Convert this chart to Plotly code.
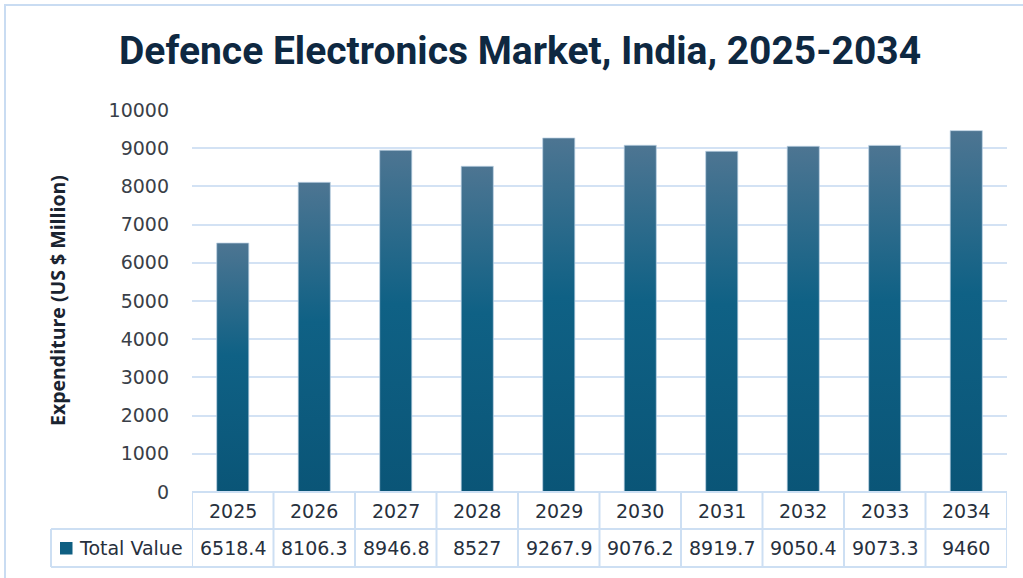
import plotly.graph_objects as go

# Market values, US $ million
years = ["2025", "2026", "2027", "2028", "2029", "2030", "2031", "2032", "2033", "2034"]
values = [6518.4, 8106.3, 8946.8, 8527, 9267.9, 9076.2, 8919.7, 9050.4, 9073.3, 9460]
value_labels = ["6518.4", "8106.3", "8946.8", "8527", "9267.9", "9076.2", "8919.7", "9050.4", "9073.3", "9460"]
series_name = "Total Value"
y_ticks = [0, 1000, 2000, 3000, 4000, 5000, 6000, 7000, 8000, 9000, 10000]
y_tick_text = [str(t) for t in y_ticks]

W, H = 1023, 578
ML, MR, MT, MB = 192, 16, 110, 86
PW, PH = W - ML - MR, H - MT - MB

def px_x(p):
    return (p - ML) / PW

def px_y(p):
    return (H - MB - p) / PH

HALF = 0.197
BAR_SCALE = [[0, "#0a5577"], [0.55, "#0f6185"], [1, "#4d7592"]]
GRID = "#d3e2f4"
TABLE_LINE = "#cddff3"
TEXT = "#27303d"
BODY_FONT = "DejaVu Sans"
BODY_SIZE = 19

fig = go.Figure()

# each bar as a filled column with its own vertical gradient
for i, v in enumerate(values):
    fig.add_trace(go.Scatter(
        x=[i - HALF, i + HALF, i + HALF, i - HALF, i - HALF],
        y=[0, 0, v, v, 0],
        mode="lines",
        fill="toself",
        fillgradient=dict(type="vertical", colorscale=BAR_SCALE),
        line=dict(color="rgba(190,210,228,0.9)", width=0.8),
        name=years[i],
        showlegend=False,
        hovertemplate=years[i] + ": %{y}<extra></extra>",
    ))

shapes = []
annotations = []

row_top = 0
row_mid = px_y(529)
row_bot = px_y(567)

# data table grid below the plot
for k in range(len(years) + 1):
    shapes.append(dict(type="line", xref="x", yref="paper", x0=k - 0.5, x1=k - 0.5,
                       y0=row_top, y1=row_bot, line=dict(color=TABLE_LINE, width=2)))
for yy in (row_top, row_mid, row_bot):
    shapes.append(dict(type="line", xref="x", yref="paper", x0=-0.5, x1=len(years) - 0.5,
                       y0=yy, y1=yy, line=dict(color=TABLE_LINE, width=2)))
legend_left = px_x(51)
for yy in (row_mid, row_bot):
    shapes.append(dict(type="line", xref="paper", yref="paper", x0=legend_left, x1=0,
                       y0=yy, y1=yy, line=dict(color=TABLE_LINE, width=2)))
shapes.append(dict(type="line", xref="paper", yref="paper", x0=legend_left, x1=legend_left,
                   y0=row_mid, y1=row_bot, line=dict(color=TABLE_LINE, width=2)))

# legend key square
shapes.append(dict(type="rect", xref="paper", yref="paper",
                   x0=px_x(60), x1=px_x(72.5), y0=px_y(542), y1=px_y(554.5),
                   fillcolor="#0f5f82", line=dict(width=0)))

# outer chart border
shapes.append(dict(type="rect", xref="paper", yref="paper",
                   x0=px_x(5), x1=px_x(1040), y0=px_y(5), y1=px_y(600),
                   fillcolor="rgba(0,0,0,0)", line=dict(color="#c9dcf2", width=2)))

cell_font = dict(family=BODY_FONT, size=BODY_SIZE, color=TEXT)
for i, (yr, lab) in enumerate(zip(years, value_labels)):
    annotations.append(dict(x=i, y=(row_top + row_mid) / 2, xref="x", yref="paper",
                            text=yr, showarrow=False, xanchor="center", yanchor="middle",
                            font=cell_font))
    annotations.append(dict(x=i, y=(row_mid + row_bot) / 2, xref="x", yref="paper",
                            text=lab, showarrow=False, xanchor="center", yanchor="middle",
                            font=cell_font))

annotations.append(dict(x=px_x(77), y=(row_mid + row_bot) / 2, xref="paper", yref="paper",
                        text=series_name, showarrow=False, xanchor="left", yanchor="middle",
                        font=cell_font))

# y-axis title
annotations.append(dict(x=px_x(57), y=px_y(301), xref="paper", yref="paper",
                        text="<b>Expenditure (US $ Million)</b>", showarrow=False,
                        textangle=-90, xanchor="center", yanchor="middle",
                        font=dict(family="Open Sans", size=19.5, color="#1a2330")))

# chart title
annotations.append(dict(x=px_x(520), y=px_y(51), xref="paper", yref="paper",
                        text="<b>Defence Electronics Market, India, 2025-2034</b>",
                        showarrow=False, xanchor="center", yanchor="middle",
                        font=dict(family="Roboto", size=39, color="#0e2841")))

fig.update_layout(
    width=W, height=H,
    margin=dict(l=ML, r=MR, t=MT, b=MB),
    paper_bgcolor="white", plot_bgcolor="white",
    shapes=shapes, annotations=annotations,
    showlegend=False,
    xaxis=dict(range=[-0.5, len(years) - 0.5], showticklabels=False, showgrid=False,
               zeroline=False, showline=False, fixedrange=True),
    yaxis=dict(range=[0, 10000], tickvals=y_ticks, ticktext=y_tick_text, showgrid=True,
               gridcolor=GRID, gridwidth=2, zeroline=False, showline=False, ticks="",
               ticklabelstandoff=22,
               tickfont=dict(family=BODY_FONT, size=BODY_SIZE, color="#3a3f48"),
               fixedrange=True),
)

fig.write_html("out.html")
